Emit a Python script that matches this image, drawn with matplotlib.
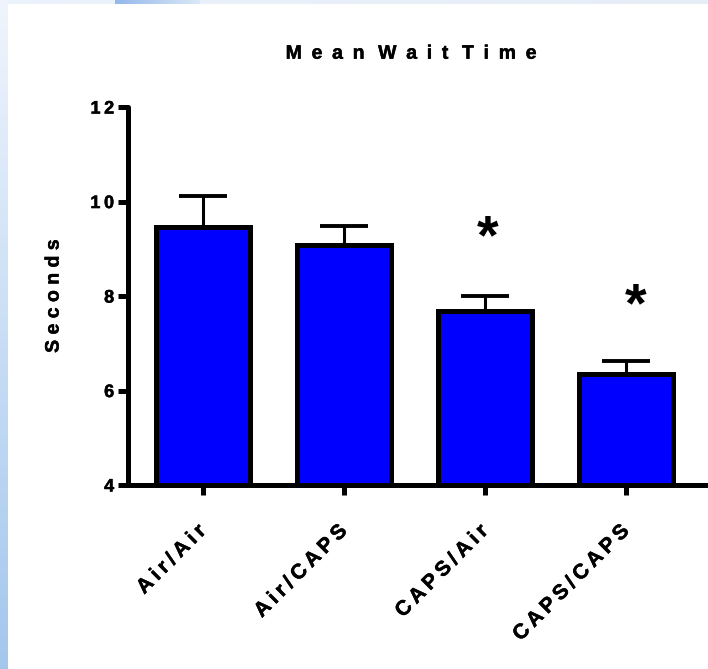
#!/usr/bin/env python3

import matplotlib
matplotlib.use("Agg")
import matplotlib.pyplot as plt
import matplotlib.patheffects as pe
import numpy as np

plt.rcParams["font.family"] = ["Liberation Sans", "DejaVu Sans"]
plt.rcParams["font.weight"] = "bold"

groups = ["Air/Air", "Air/CAPS", "CAPS/Air", "CAPS/CAPS"]
means = [9.47, 9.07, 7.69, 6.36]
sems = [0.65, 0.42, 0.31, 0.27]
significant = [False, False, True, True]
star_y = [None, None, 9.2, 7.76]
star_dx = [0, 0, 0.02, 0.07]

# a little extra ink so the text looks as heavy as the original
heavy = [pe.withStroke(linewidth=0.35, foreground="black")]


def spaced(s, gap="\u2009", word_gap="\u2002\u2009"):
    # wide letter tracking like the original graph
    return word_gap.join(gap.join(w) for w in s.split(" "))


fig = plt.figure(figsize=(7.08, 6.69), dpi=100)

# light blue slide border on the left and top
bg = fig.add_axes([0, 0, 1, 1], zorder=-10)
bg.set_axis_off()
H, W = 669, 708
img = np.ones((H, W, 3))
t = np.linspace(0, 1, H)[:, None]
left_col = np.array([0.94, 0.96, 0.99]) * (1 - t) + np.array([0.64, 0.78, 0.93]) * t
img[:, :8, :] = left_col[:, None, :]
s = np.linspace(0, 1, W)[:, None]
top_row = np.array([0.92, 0.95, 0.99]) * (1 - s) + np.array([0.90, 0.93, 0.97]) * s
top_row[115:200] = np.array([0.58, 0.72, 0.92])[None, :] * np.linspace(1, 0, 85)[:, None] \
    + np.array([0.86, 0.91, 0.97])[None, :] * np.linspace(0, 1, 85)[:, None]
img[:4, 8:, :] = top_row[8:][None, :, :]
bg.imshow(img, aspect="auto", extent=[0, 1, 0, 1])

ax = fig.add_axes([0.1808, 0.275, 0.8192, 0.565])
x = np.arange(len(groups))

ax.errorbar(x, means, yerr=[np.zeros(len(sems)), sems], fmt="none",
            ecolor="black", elinewidth=2.2, capsize=17, capthick=2.8, zorder=1)
ax.bar(x, means, width=0.67, bottom=0, color="#0000ff", edgecolor="black",
       linewidth=3.6, zorder=2)

for i in range(len(groups)):
    if significant[i]:
        ax.text(x[i] + star_dx[i], star_y[i], "*", ha="center", va="center",
                fontsize=40, fontweight="bold")

ax.set_ylim(4, 12)
ax.set_xlim(-0.532, 3.58)
ax.set_yticks([4, 6, 8, 10, 12])
ax.set_yticklabels([spaced(str(v)) for v in [4, 6, 8, 10, 12]], fontsize=13)
ax.set_xticks(x)
ax.set_xticklabels([spaced(g) for g in groups], rotation=45, ha="right",
                   va="center", rotation_mode="anchor", fontsize=15)

for side in ["top", "right"]:
    ax.spines[side].set_visible(False)
for side in ["left", "bottom"]:
    ax.spines[side].set_linewidth(3.6)
    ax.spines[side].set_capstyle("round")

ax.tick_params(axis="both", width=3.6, length=7)
ax.tick_params(axis="y", pad=3)
ax.tick_params(axis="x", pad=24)

ax.set_ylabel(spaced("Seconds", " "), fontsize=14, fontweight="bold", labelpad=20)
title = fig.text(0.581, 0.919, spaced("Mean Wait Time", "\u2002"), ha="center",
                 va="center", fontsize=14, fontweight="bold")

for lab in ax.get_xticklabels() + ax.get_yticklabels() + [ax.yaxis.label, title]:
    lab.set_path_effects(heavy)

plt.savefig("out.png", dpi=100)
